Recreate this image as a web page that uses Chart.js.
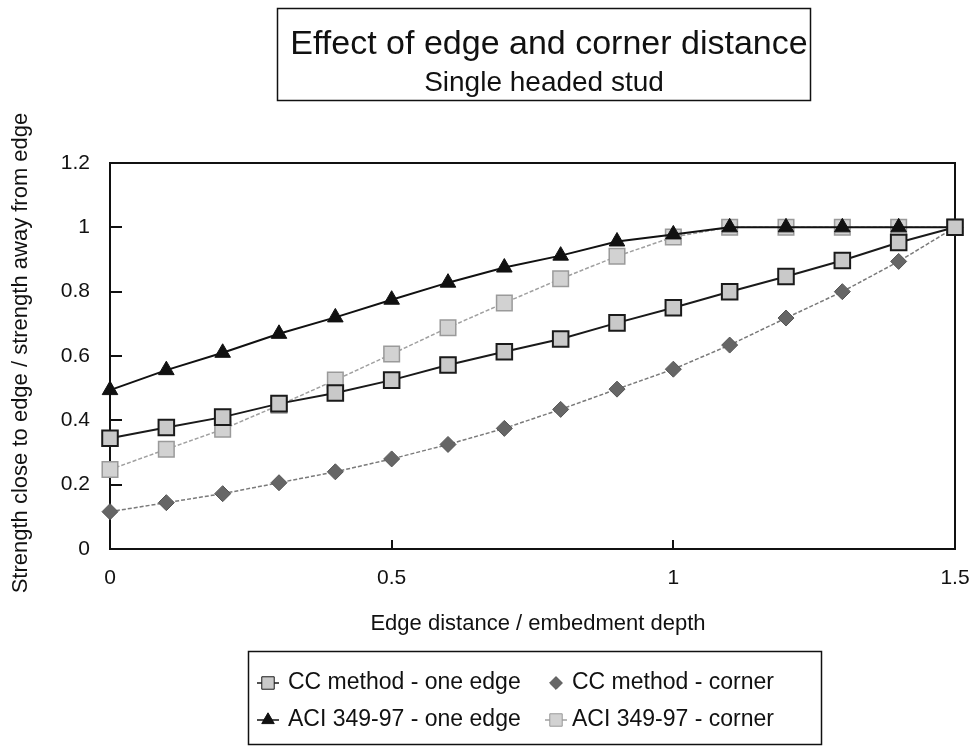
<!DOCTYPE html>
<html>
<head>
<meta charset="utf-8">
<script src="https://cdn.jsdelivr.net/npm/chart.js@4.4.1/dist/chart.umd.min.js"></script>
<style>
  body { margin: 0; background: #fff; }
  #wrap { width: 971px; height: 746px; position: relative; }
</style>
</head>
<body>
<div id="wrap"><canvas id="chart1"></canvas></div>
<script>
// edge distance / embedment depth
const xValues = [0, 0.1, 0.2, 0.3, 0.4, 0.5, 0.6, 0.7, 0.8, 0.9, 1.0, 1.1, 1.2, 1.3, 1.4, 1.5];

// strength ratios
const ccEdge    = [0.344, 0.378, 0.41, 0.452, 0.485, 0.525, 0.572, 0.613, 0.653, 0.703, 0.75, 0.8, 0.847, 0.897, 0.953, 1.0];
const ccCorner  = [0.116, 0.144, 0.172, 0.206, 0.24, 0.28, 0.325, 0.375, 0.434, 0.497, 0.559, 0.634, 0.718, 0.8, 0.894, 1.0];
const aciEdge   = [0.494, 0.556, 0.61, 0.669, 0.72, 0.775, 0.828, 0.875, 0.912, 0.956, 0.978, 1, 1, 1, 1, 1];
const aciCorner = [0.247, 0.31, 0.372, 0.447, 0.525, 0.606, 0.688, 0.765, 0.84, 0.91, 0.97, 1, 1, 1, 1, 1];

const seriesNames = ["CC method - one edge", "CC method - corner", "ACI 349-97 - one edge", "ACI 349-97 - corner"];
const yTicks = [0, 0.2, 0.4, 0.6, 0.8, 1, 1.2];
const xTicks = [0, 0.5, 1, 1.5];

const titleText = "Effect of edge and corner distance";
const subtitleText = "Single headed stud";
const xTitle = "Edge distance / embedment depth";
const yTitle = "Strength close to edge / strength away from edge";

const FONT = "'Liberation Sans', Arial, Helvetica, sans-serif";

function toPoints(ys) {
    return xValues.map(function(x, i) { return { x: x, y: ys[i] }; });
}

const datasets = [{
    label: seriesNames[0],
    data: toPoints(ccEdge),
    borderColor: "#1a1a1a",
    borderWidth: 2,
    pointStyle: "rect",
    pointRadius: 11,
    pointBackgroundColor: "#c9c9c9",
    pointBorderColor: "#1a1a1a",
    pointBorderWidth: 2
}, {
    label: seriesNames[1],
    data: toPoints(ccCorner),
    borderColor: "#7a7a7a",
    borderWidth: 1.5,
    borderDash: [4, 2],
    pointStyle: "rectRot",
    pointRadius: 8,
    pointBackgroundColor: "#666666",
    pointBorderColor: "#555555",
    pointBorderWidth: 1
}, {
    label: seriesNames[2],
    data: toPoints(aciEdge),
    borderColor: "#111111",
    borderWidth: 2,
    pointStyle: "triangle",
    pointRadius: 9,
    pointBackgroundColor: "#111111",
    pointBorderColor: "#111111",
    pointBorderWidth: 1
}, {
    label: seriesNames[3],
    data: toPoints(aciCorner),
    borderColor: "#a0a0a0",
    borderWidth: 1.5,
    borderDash: [4, 2],
    pointStyle: "rect",
    pointRadius: 11,
    pointBackgroundColor: "#d2d2d2",
    pointBorderColor: "#9a9a9a",
    pointBorderWidth: 1.5
}];

// frame, inward ticks, titles, legend box
const decorPlugin = {
    id: "decor",
    beforeDatasetsDraw: function(chart) {
        const ctx = chart.ctx;
        const ca = chart.chartArea;
        const xs = chart.scales.x, ys = chart.scales.y;
        ctx.save();
        ctx.strokeStyle = "#111";
        ctx.lineWidth = 2;
        ctx.strokeRect(ca.left, ca.top, ca.right - ca.left, ca.bottom - ca.top);
        ctx.beginPath();
        yTicks.forEach(function(v) {
            if (v <= 0 || v >= 1.2) return;
            const py = Math.round(ys.getPixelForValue(v));
            ctx.moveTo(ca.left, py);
            ctx.lineTo(ca.left + 12, py);
        });
        xTicks.forEach(function(v) {
            if (v <= 0 || v >= 1.5) return;
            const px = Math.round(xs.getPixelForValue(v));
            ctx.moveTo(px, ca.bottom);
            ctx.lineTo(px, ca.bottom - 9);
        });
        ctx.stroke();
        ctx.restore();
    },
    afterDraw: function(chart) {
        const ctx = chart.ctx;
        ctx.save();
        ctx.fillStyle = "#111";
        ctx.strokeStyle = "#111";
        ctx.textAlign = "center";
        ctx.textBaseline = "middle";

        // title box
        ctx.lineWidth = 1.5;
        ctx.strokeRect(277.5, 8.5, 533, 92);
        ctx.font = "34px " + FONT;
        ctx.fillText(titleText, 549, 45);
        ctx.font = "28px " + FONT;
        ctx.fillText(subtitleText, 544, 83);

        // axis titles
        ctx.font = "22px " + FONT;
        ctx.fillText(xTitle, 538, 624);
        ctx.save();
        ctx.translate(21, 353);
        ctx.rotate(-Math.PI / 2);
        ctx.fillText(yTitle, 0, 0);
        ctx.restore();

        // legend
        ctx.strokeRect(248.5, 651.5, 573, 93);
        const cols = [268, 556];
        const rows = [683, 720];
        const slots = [[0, 0], [1, 0], [0, 1], [1, 1]];
        ctx.font = "23px " + FONT;
        ctx.textAlign = "left";
        chart.data.datasets.forEach(function(ds, i) {
            const cx = cols[slots[i][0]], cy = rows[slots[i][1]];
            if (i !== 1) {
                ctx.beginPath();
                ctx.setLineDash([]);
                ctx.lineWidth = 1.5;
                ctx.strokeStyle = ds.borderColor;
                ctx.moveTo(cx - 11, cy);
                ctx.lineTo(cx + 11, cy);
                ctx.stroke();
            }
            ctx.fillStyle = ds.pointBackgroundColor;
            ctx.strokeStyle = ds.pointBorderColor;
            ctx.lineWidth = 1;
            Chart.helpers.drawPoint(ctx, {
                pointStyle: ds.pointStyle,
                radius: ds.pointRadius * 0.8,
                rotation: 0,
                borderWidth: 1
            }, cx, cy);
            ctx.fillStyle = "#111";
            ctx.fillText(ds.label, cx + (i % 2 === 1 ? 16 : 20), cy);
        });
        ctx.restore();
    }
};

new Chart(document.getElementById("chart1"), {
    type: "line",
    data: { datasets: datasets },
    options: {
        responsive: true,
        maintainAspectRatio: false,
        animation: false,
        datasets: { line: { clip: false } },
        layout: { padding: { left: 0, right: 16, top: 163, bottom: 0 } },
        plugins: {
            legend: { display: false },
            title: { display: false },
            tooltip: { enabled: false }
        },
        scales: {
            x: {
                type: "linear",
                min: 0,
                max: 1.5,
                afterFit: function(scale) {
                    scale.height = 197;
                    scale.paddingLeft = 0;
                    scale.paddingRight = 0;
                },
                afterBuildTicks: function(scale) {
                    scale.ticks = xTicks.map(function(v) { return { value: v }; });
                },
                grid: { display: false, drawTicks: false },
                border: { display: false },
                ticks: {
                    padding: 17,
                    color: "#111",
                    font: { family: FONT, size: 21 },
                    maxRotation: 0,
                    callback: function(v) { return String(v); }
                }
            },
            y: {
                min: 0,
                max: 1.2,
                afterFit: function(scale) {
                    scale.width = 110;
                    scale.paddingTop = 0;
                    scale.paddingBottom = 0;
                },
                afterBuildTicks: function(scale) {
                    scale.ticks = yTicks.map(function(v) { return { value: v }; });
                },
                grid: { display: false, drawTicks: false },
                border: { display: false },
                ticks: {
                    padding: 20,
                    color: "#111",
                    font: { family: FONT, size: 21 },
                    callback: function(v) { return String(Math.round(v * 10) / 10); }
                }
            }
        }
    },
    plugins: [decorPlugin]
});
</script>
</body>
</html>
